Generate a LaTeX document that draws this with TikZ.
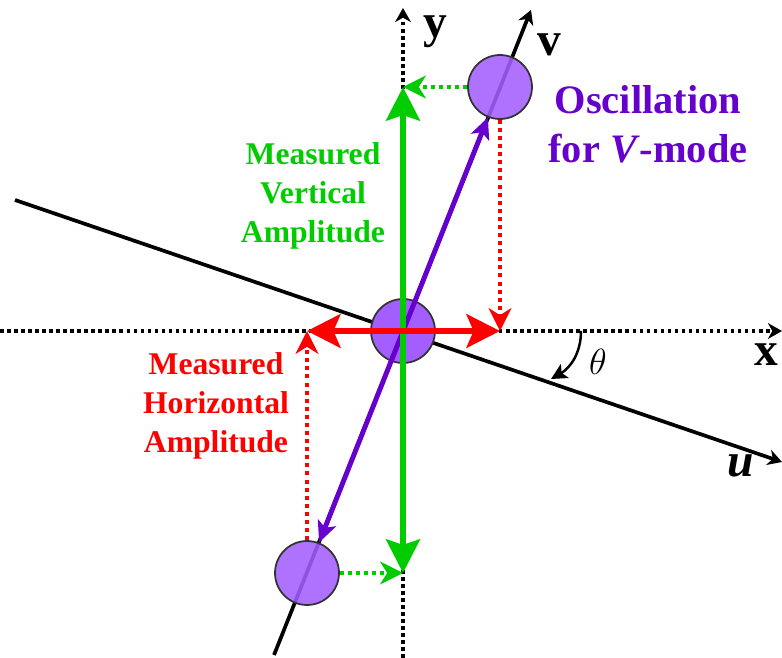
\documentclass[tikz,border=0pt]{standalone}
\usepackage{fontspec}
\setmainfont{Liberation Serif}
\usetikzlibrary{arrows.meta}
\definecolor{ModeGreen}{HTML}{00CC00}
\definecolor{ModeRed}{HTML}{FF0000}
\definecolor{ModePurple}{HTML}{6600CC}
\definecolor{BallFill}{HTML}{A35EFF}
\definecolor{BallEdge}{HTML}{333333}
\begin{document}
\begin{tikzpicture}[
  x=0.02cm,y=-0.02cm,
  ball/.style={circle,draw=BallEdge,line width=1pt,fill=BallFill,minimum size=1.28cm,inner sep=0pt},
  axis/.style={line width=2pt,dash pattern=on 2pt off 2pt,-{Stealth[length=8pt,width=9pt,inset=2.5pt]}},
  frame/.style={line width=2.1pt,-{Stealth[length=8pt,width=9pt,inset=2.5pt]}},
  garr/.style={draw=ModeGreen,line width=3.9pt,{Stealth[length=19pt,width=19pt,inset=3pt]}-{Stealth[length=19pt,width=19pt,inset=3pt]}},
  rarr/.style={draw=ModeRed,line width=3.9pt,{Stealth[length=19pt,width=19pt,inset=4pt]}-{Stealth[length=19pt,width=19pt,inset=4pt]}},
  parr/.style={draw=ModePurple,line width=2.8pt,{Stealth[length=12pt,width=11pt,inset=3pt]}-{Stealth[length=12pt,width=11pt,inset=3pt]}},
  proj/.style={line width=2.3pt,dash pattern=on 2.3pt off 2.3pt,-{Stealth[length=13pt,width=13pt,inset=4pt]}},
  axlabel/.style={font=\fontsize{27}{30}\selectfont\bfseries},
  note/.style={align=center,font=\fontsize{18}{22}\selectfont\bfseries}
]
\useasboundingbox (0,0) rectangle (782,658);
% axes and frame
\coordinate (xl) at (0,331);
\coordinate (xr) at (782,331);
\coordinate (yb) at (403,658);
\coordinate (yt) at (403,8);
\coordinate (ul) at (15,200);
\coordinate (ur) at (782,462);
\coordinate (vb) at (274,655);
\coordinate (vt) at (531,10);
% amplitude ends
\coordinate (vtop) at (403,87);
\coordinate (vbot) at (403,573);
\coordinate (hl) at (307,331);
\coordinate (hr) at (500,331);
\coordinate (th1) at (581,331);
\coordinate (th2) at (551,379);

\draw[axis] (xl) -- (xr);
\draw[axis] (yb) -- (yt);
\draw[frame] (ul) -- (ur);
\draw[frame] (vb) -- (vt);

\node[ball] (mid) at (403,331) {};
\node[ball,fill opacity=0.88] (top) at (500,87) {};
\node[ball,fill opacity=0.88] (bot) at (307,573) {};

\draw[parr] (bot) -- (top);
\draw[garr] (vbot) -- (vtop);
\draw[rarr] (hl) -- (hr);

\draw[proj,ModeGreen] (top) -- (vtop);
\draw[proj,ModeGreen] (bot) -- (vbot);
\draw[proj,ModeRed] (top) -- (hr);
\draw[proj,ModeRed] (bot) -- (hl);

\draw[line width=1.4pt,-{Stealth[length=9pt,width=9pt,inset=2pt]}] (th1) to[out=-90,in=30] (th2);
\node (theta) at (598,362) {\fontsize{21}{23}\selectfont$\theta$};

\node[axlabel] (ylab) at (435,32) {y};
\node[axlabel] (vlab) at (549,45) {v};
\node[axlabel] (xlab) at (766,355) {x};
\node[axlabel] (ulab) at (741,466) {\itshape u};

\node[note,text=ModePurple,font=\fontsize{23}{28}\selectfont\bfseries] (osc) at (648,124) {Oscillation\\for \textit{V}-mode};
\node[note,text=ModeGreen] (vamp) at (313,196) {Measured\\Vertical\\Amplitude};
\node[note,text=ModeRed] (hamp) at (216,406) {Measured\\Horizontal\\Amplitude};
\end{tikzpicture}
\end{document}
